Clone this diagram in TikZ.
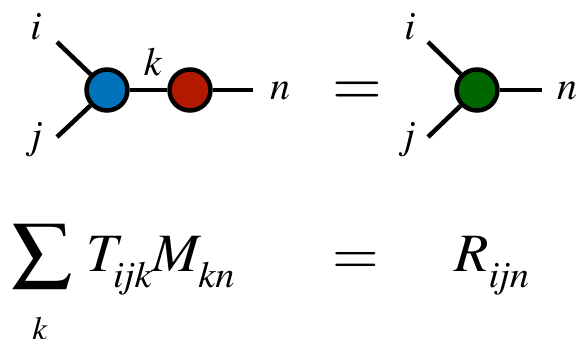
\documentclass[tikz,border=0pt]{standalone}
\usepackage{amsmath}
\usepackage{mathptmx}
\usetikzlibrary{positioning}

\definecolor{tblue}{RGB}{0,114,186}
\definecolor{tred}{RGB}{178,26,0}
\definecolor{tgreen}{RGB}{0,102,0}

\DeclareMathSizes{54}{54}{37}{28}
% subscript set a little lower than TeX puts it
\newcommand{\dsub}[1]{_{\lower7pt\hbox{$\scriptstyle\mathit{#1}$}}}

\tikzset{
  tensor/.style={circle, draw=black, line width=4.5pt, minimum size=41pt, inner sep=0pt},
  leg/.style={line width=4.5pt},
  idx/.style={inner sep=0pt, font=\fontsize{40}{44}\selectfont},
  eqn/.style={inner sep=0pt, anchor=base west, font=\fontsize{54}{60}\selectfont, xscale=1.04}
}

\begin{document}
\begin{tikzpicture}[x=1pt, y=-1pt]

\useasboundingbox (0,0) rectangle (582,339);

% Network: T contracted with M over k
\node[tensor, fill=tblue] (T) at (107,90) {};
\node[tensor, fill=tred] (M) at (190,90) {};
\coordinate (Ti) at (57,42);
\coordinate (Tj) at (57,137);
\coordinate (Mn) at (253,90);
\draw[leg] (Ti) -- (T);
\draw[leg] (Tj) -- (T);
\draw[leg] (T) -- (M);
\draw[leg] (M) -- (Mn);

% Result tensor R
\node[tensor, fill=tgreen] (R) at (477,90) {};
\coordinate (Ri) at (428,42);
\coordinate (Rj) at (428,137);
\coordinate (Rn) at (542,90);
\draw[leg] (Ri) -- (R);
\draw[leg] (Rj) -- (R);
\draw[leg] (R) -- (Rn);

% Index labels
\node[idx] (li) at (36,27) {$i$};
\node[idx] (lj) at (34,140) {$j$};
\node[idx] (lk) at (153,62) {$k$};
\node[idx] (ln) at (280,91) {$n$};
\node[idx] (lRi) at (410,27) {$i$};
\node[idx] (lRj) at (407,140) {$j$};
\node[idx] (lRn) at (567,91) {$n$};

\node[inner sep=0pt, anchor=base, font=\fontsize{64}{70}\selectfont] (eqtop) at (357,106) {$=$};

% Equation
\node[inner sep=0pt, font=\fontsize{52}{58}\selectfont, xscale=1.15] (sum) at (42,256) {$\displaystyle\sum$};
\node[inner sep=0pt, anchor=base, font=\fontsize{34}{38}\selectfont] (sumk) at (40,341) {$k$};
\node[eqn] (lhs) at (86,272) {$T\dsub{ijk}M\dsub{kn}$};
\node[inner sep=0pt, anchor=base, font=\fontsize{60}{66}\selectfont] (eqbot) at (356,275) {$=$};
\node[eqn] (rhs) at (454,272) {$R\dsub{ijn}$};

\end{tikzpicture}
\end{document}
